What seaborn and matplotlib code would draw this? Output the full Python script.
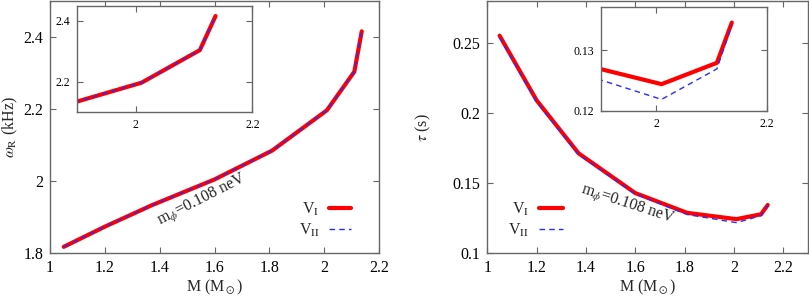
import numpy as np
import pandas as pd
import seaborn as sns
import matplotlib.pyplot as plt

# ============================================================ DATA ============================================================

mass       = [1.05, 1.20, 1.37, 1.60, 1.81, 2.01, 2.11, 2.137]
omega_v1   = [1.818, 1.874, 1.933, 2.005, 2.085, 2.197, 2.304, 2.416]
omega_v2   = [1.818, 1.874, 1.933, 2.005, 2.085, 2.197, 2.304, 2.416]
tau_v1     = [0.2553, 0.2092, 0.1714, 0.1430, 0.1289, 0.1244, 0.1279, 0.1345]
tau_v2     = [0.2540, 0.2080, 0.1705, 0.1424, 0.1277, 0.1219, 0.1269, 0.1341]

labels     = ["V$_{\\rm I}$", "V$_{\\rm II}$"]
note       = "m$_\\phi$=0.108 neV"

RED  = "#ff0000"
BLUE = "#2a2aff"
GREY = "#666666"
FS   = 11.5

# ============================================================ STYLE ============================================================

sns.set_theme(style="ticks")
plt.rcParams["font.family"]      = ["Liberation Serif", "DejaVu Serif"]
plt.rcParams["mathtext.fontset"] = "stix"
plt.rcParams["axes.edgecolor"]   = GREY
plt.rcParams["xtick.color"]      = GREY
plt.rcParams["ytick.color"]      = GREY
plt.rcParams["xtick.labelcolor"] = "black"
plt.rcParams["ytick.labelcolor"] = "black"

df_omega = pd.DataFrame({"M": mass, "v1": omega_v1, "v2": omega_v2})
df_tau   = pd.DataFrame({"M": mass, "v1": tau_v1, "v2": tau_v2})

fig = plt.figure(figsize=(8.09, 2.97), dpi=100)


def draw(ax, df, lw_red=3.0, lw_blue=1.0):
    sns.lineplot(data=df, x="M", y="v1", ax=ax, color=RED, linewidth=lw_red, label=labels[0])
    sns.lineplot(data=df, x="M", y="v2", ax=ax, color=BLUE, linewidth=lw_blue,
                 linestyle=(0, (4, 3)), label=labels[1])


def style(ax, size, pad):
    ax.tick_params(direction="in", top=True, right=True, length=4, width=0.8,
                   labelsize=size, pad=pad)
    for s in ax.spines.values():
        s.set_linewidth(1.0)
        s.set_color(GREY)


# ------------------------------------------------------------ left panel
ax1 = fig.add_axes([0.0618, 0.147, 0.4067, 0.8495])
draw(ax1, df_omega)
ax1.set_xlim(1.0, 2.2)
ax1.set_ylim(1.8, 2.5)
ax1.set_xticks([1, 1.2, 1.4, 1.6, 1.8, 2, 2.2])
ax1.set_xticklabels(["1", "1.2", "1.4", "1.6", "1.8", "2", "2.2"])
ax1.set_yticks([1.8, 2.0, 2.2, 2.4])
ax1.set_yticklabels(["1.8", "2", "2.2", "2.4"])
style(ax1, FS, 5)
ax1.set_xlabel("M (M$_\\odot$)", fontsize=FS, labelpad=1)
ax1.set_ylabel("$\\omega_{\\rm R}$ (kHz)", fontsize=FS, labelpad=2)
ax1.text(1.555, 1.948, note, rotation=27, ha="center", va="center", fontsize=FS)
ax1.legend(loc="lower right", bbox_to_anchor=(0.96, 0.0), frameon=False, markerfirst=False,
           fontsize=FS, handlelength=1.4, handletextpad=0.6, labelspacing=0.25)

ins1 = fig.add_axes([0.0956, 0.622, 0.2163, 0.359])
draw(ins1, df_omega)
ins1.set_xlim(1.9, 2.2)
ins1.set_ylim(2.1, 2.45)
ins1.set_xticks([2.0, 2.2])
ins1.set_xticklabels(["2", "2.2"])
ins1.set_yticks([2.2, 2.4])
ins1.set_yticklabels(["2.2", "2.4"])
style(ins1, 8.5, 5)
ins1.set_xlabel("")
ins1.set_ylabel("")
ins1.get_legend().remove()

# ------------------------------------------------------------ right panel
ax2 = fig.add_axes([0.6023, 0.147, 0.3964, 0.8495])
draw(ax2, df_tau)
ax2.set_xlim(1.0, 2.3)
ax2.set_ylim(0.1, 0.28)
ax2.set_xticks([1, 1.2, 1.4, 1.6, 1.8, 2, 2.2])
ax2.set_xticklabels(["1", "1.2", "1.4", "1.6", "1.8", "2", "2.2"])
ax2.set_yticks([0.1, 0.15, 0.2, 0.25])
ax2.set_yticklabels(["0.1", "0.15", "0.2", "0.25"])
style(ax2, FS, 5)
ax2.set_xlabel("M (M$_\\odot$)", fontsize=FS, labelpad=1)
ax2.set_ylabel("$\\tau$ (s)", fontsize=FS, labelpad=14)
ax2.text(1.567, 0.1345, note, rotation=-18, ha="center", va="center", fontsize=FS)
ax2.legend(loc="lower left", bbox_to_anchor=(0.02, 0.0), frameon=False, markerfirst=False,
           fontsize=FS, handlelength=1.5, handletextpad=0.6, labelspacing=0.25)

ins2 = fig.add_axes([0.7425, 0.6263, 0.2052, 0.349])
draw(ins2, df_tau)
ins2.set_xlim(1.9, 2.2)
ins2.set_ylim(0.12, 0.137)
ins2.set_xticks([2.0, 2.2])
ins2.set_xticklabels(["2", "2.2"])
ins2.set_yticks([0.12, 0.13])
ins2.set_yticklabels(["0.12", "0.13"])
style(ins2, 8.5, 5)
ins2.set_xlabel("")
ins2.set_ylabel("")
ins2.get_legend().remove()

fig.savefig("out.png", dpi=100)
